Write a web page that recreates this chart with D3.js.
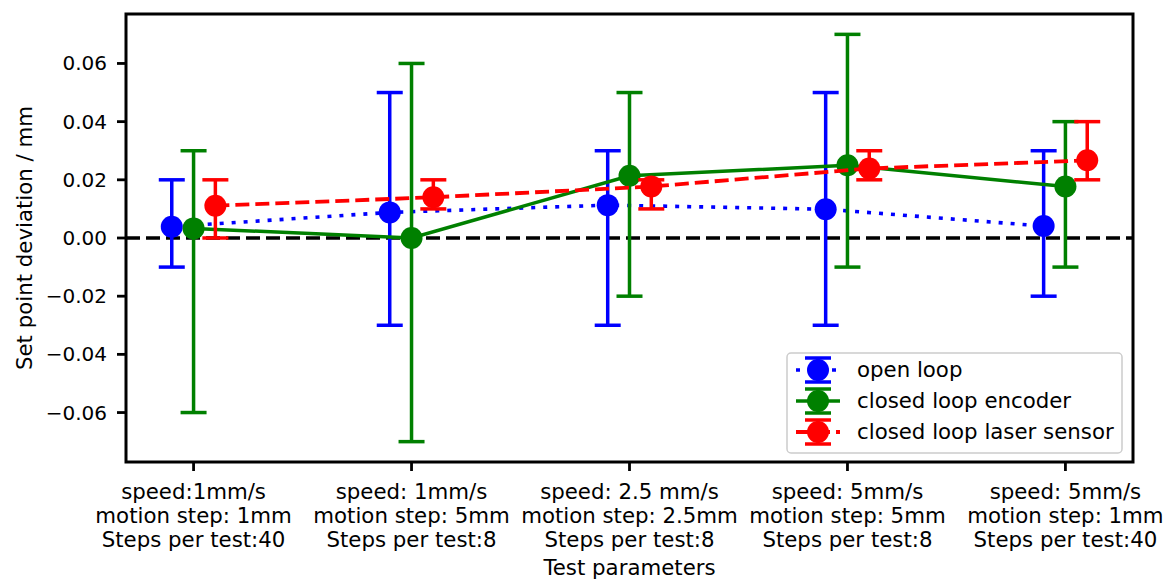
<!DOCTYPE html>
<html><head><meta charset="utf-8">
<script src="https://cdn.jsdelivr.net/npm/d3@7"></script>
<style>body{margin:0;background:#fff}svg{display:block}text{font-family:"DejaVu Sans",sans-serif;fill:#000}</style>
</head><body>
<svg id="c" width="1167" height="580"></svg>
<script>
const categories = [
  ["speed:1mm/s","motion step: 1mm","Steps per test:40"],
  ["speed: 1mm/s","motion step: 5mm","Steps per test:8"],
  ["speed: 2.5 mm/s","motion step: 2.5mm","Steps per test:8"],
  ["speed: 5mm/s","motion step: 5mm","Steps per test:8"],
  ["speed: 5mm/s","motion step: 1mm","Steps per test:40"]
];
const openLoop      = [0.0039, 0.0088, 0.0113, 0.0099, 0.0041];
const openLoopHi    = [0.02, 0.05, 0.03, 0.05, 0.03];
const openLoopLo    = [-0.01, -0.03, -0.03, -0.03, -0.02];
const encoder       = [0.0033, 0.0, 0.0214, 0.025, 0.0177];
const encoderHi     = [0.03, 0.06, 0.05, 0.07, 0.04];
const encoderLo     = [-0.06, -0.07, -0.02, -0.01, -0.01];
const laser         = [0.0111, 0.0140, 0.0177, 0.0239, 0.0267];
const laserHi       = [0.02, 0.02, 0.02, 0.03, 0.04];
const laserLo       = [0.0, 0.01, 0.01, 0.02, 0.02];
const yTicks = [-0.06, -0.04, -0.02, 0.00, 0.02, 0.04, 0.06];
const seriesNames = ["open loop", "closed loop encoder", "closed loop laser sensor"];

const svg = d3.select("#c");
const L = 126, R = 1133, T = 14, B = 462;
const FS = 20, FL = 21.3;
const x = d3.scaleLinear().domain([-0.31, 4.31]).range([L, R]);
const y = d3.scaleLinear().domain([-0.077, 0.077]).range([B, T]);

const series = [
  {name: seriesNames[0], v: openLoop, hi: openLoopHi, lo: openLoopLo, off: -0.1, color: "#0000ff", dash: "4,8", lw: 3.6},
  {name: seriesNames[1], v: encoder, hi: encoderHi, lo: encoderLo, off: 0, color: "#008000", dash: null, lw: 3.5},
  {name: seriesNames[2], v: laser, hi: laserHi, lo: laserLo, off: 0.1, color: "#ff0000", dash: "14,6", lw: 3.8}
];

// zero line
svg.append("line").attr("x1", L).attr("x2", R).attr("y1", y(0)).attr("y2", y(0))
  .attr("stroke", "#000").attr("stroke-width", 3.6).attr("stroke-dasharray", "14,6");

const capW = 13, ew = 3.5;
series.forEach(s => {
  const g = svg.append("g");
  s.v.forEach((v, i) => {
    const cx = x(i + s.off);
    g.append("line").attr("x1", cx).attr("x2", cx).attr("y1", y(s.hi[i])).attr("y2", y(s.lo[i]))
      .attr("stroke", s.color).attr("stroke-width", ew);
    [s.hi[i], s.lo[i]].forEach(c => g.append("line").attr("x1", cx - capW).attr("x2", cx + capW)
      .attr("y1", y(c)).attr("y2", y(c)).attr("stroke", s.color).attr("stroke-width", ew));
  });
  const line = d3.line().x((d, i) => x(i + s.off)).y(d => y(d));
  g.append("path").attr("d", line(s.v)).attr("fill", "none").attr("stroke", s.color)
    .attr("stroke-width", s.lw).attr("stroke-dasharray", s.dash);
  s.v.forEach((v, i) => g.append("circle").attr("cx", x(i + s.off)).attr("cy", y(v)).attr("r", 11).attr("fill", s.color));
});

// frame
svg.append("rect").attr("x", L).attr("y", T).attr("width", R - L).attr("height", B - T)
  .attr("fill", "none").attr("stroke", "#000").attr("stroke-width", 3);

// y ticks
yTicks.forEach(t => {
  svg.append("line").attr("x1", L - 9).attr("x2", L).attr("y1", y(t)).attr("y2", y(t)).attr("stroke", "#000").attr("stroke-width", 2.8);
  svg.append("text").attr("x", L - 19).attr("y", y(t)).attr("dy", "0.35em").attr("text-anchor", "end")
    .attr("font-size", FS).text(t === 0 ? "0.00" : (t < 0 ? "\u2212" + Math.abs(t).toFixed(2) : t.toFixed(2)));
});
// x ticks
categories.forEach((c, i) => {
  svg.append("line").attr("x1", x(i)).attr("x2", x(i)).attr("y1", B).attr("y2", B + 9).attr("stroke", "#000").attr("stroke-width", 2.8);
  c.forEach((ln, j) => svg.append("text").attr("x", x(i)).attr("y", 499 + j * 24).attr("text-anchor", "middle")
    .attr("font-size", FL).text(ln));
});

svg.append("text").attr("x", (L + R) / 2).attr("y", 575).attr("text-anchor", "middle").attr("font-size", FL).text("Test parameters");
svg.append("text").attr("transform", `translate(32,${(T + B) / 2}) rotate(-90)`).attr("text-anchor", "middle")
  .attr("font-size", FL).text("Set point deviation / mm");

// legend
const lg = svg.append("g");
lg.append("rect").attr("x", 787).attr("y", 353).attr("width", 335).attr("height", 100).attr("rx", 4)
  .attr("fill", "#fff").attr("fill-opacity", 0.8).attr("stroke", "#ccc").attr("stroke-width", 1.5);
series.forEach((s, k) => {
  const cy = 370 + k * 31, cx = 818;
  lg.append("line").attr("x1", 796).attr("x2", 840).attr("y1", cy).attr("y2", cy).attr("stroke", s.color)
    .attr("stroke-width", s.lw).attr("stroke-dasharray", s.dash);
  lg.append("line").attr("x1", cx).attr("x2", cx).attr("y1", cy - 12).attr("y2", cy + 12).attr("stroke", s.color).attr("stroke-width", ew);
  [cy - 12, cy + 12].forEach(yy => lg.append("line").attr("x1", cx - capW).attr("x2", cx + capW).attr("y1", yy).attr("y2", yy)
    .attr("stroke", s.color).attr("stroke-width", ew));
  lg.append("circle").attr("cx", cx).attr("cy", cy).attr("r", 11).attr("fill", s.color);
  lg.append("text").attr("x", 857).attr("y", cy).attr("dy", "0.35em").attr("font-size", FL).text(s.name);
});
</script>
</body></html>
